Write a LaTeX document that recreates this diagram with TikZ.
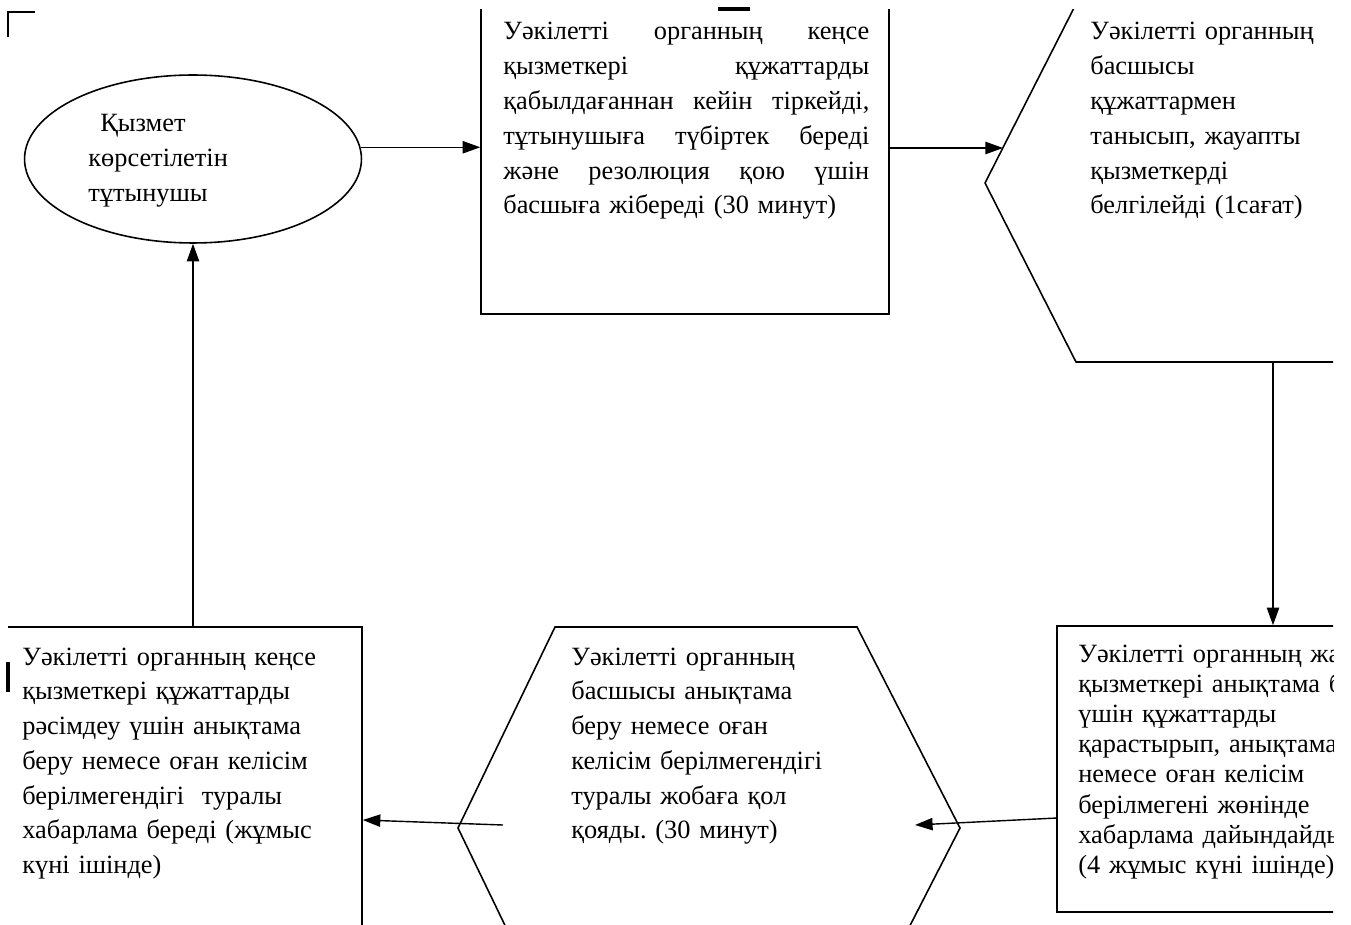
\documentclass[tikz,border=0pt]{standalone}
\usepackage{fontspec}
\setmainfont{Liberation Serif}
\usetikzlibrary{arrows.meta,shapes.geometric}
\frenchspacing

\begin{document}
\begin{tikzpicture}[x=0.02cm,y=-0.02cm]

    \tikzset{boxstyle/.style={draw,shape=rectangle,line width=0.9pt,inner sep=0pt},
        txt/.style={anchor=base west,inner sep=0pt,align=left,font=\fontsize{15}{19.8}\selectfont},
        arr/.style={-{Triangle[length=10pt,width=7pt]},line width=0.8pt}}
    \useasboundingbox (0,0) rectangle (1351,925);

    \begin{scope}
        \clip (8,10) rectangle (1333,925);
        \node[draw,shape=ellipse,line width=0.9pt,minimum width=6.74cm,minimum height=3.36cm] (cons) at (193,159) {};
        \node[boxstyle,minimum width=8.16cm,minimum height=6.88cm] (off1) at (685,142) {};
        \draw[line width=0.9pt] (985,183) -- (1076,4) -- (1520,4) -- (1611,183) -- (1520,362) -- (1076,362) -- cycle;
        \node[boxstyle,minimum width=8.64cm,minimum height=5.72cm] (exec) at (1273,769) {};
        \draw[line width=0.9pt] (458,828) -- (555,627) -- (857,627) -- (960,828) -- (857,1029) -- (555,1029) -- cycle;
        \node[boxstyle,minimum width=8.04cm,minimum height=7.72cm] (off2) at (161,820) {};

        \coordinate (h1in) at (1003,148);
        \coordinate (h1out) at (1273,362);
        \coordinate (ex1) at (1057,818);
        \coordinate (h2in) at (915,825);
        \coordinate (h2out) at (503,825);

        \node[txt,text width=6cm] (ct) at (88,132) {\hspace*{0.24cm}Қызмет\\көрсетілетін\\тұтынушы};
        \node[txt,text width=7.32cm] (t1) at (503,40) {%
            \makebox[7.32cm][l]{Уәкілетті\hfill органның\hfill кеңсе}\\
            \makebox[7.32cm][l]{қызметкері\hfill құжаттарды}\\
            \makebox[7.32cm][l]{қабылдағаннан\hfill кейін\hfill тіркейді,}\\
            \makebox[7.32cm][l]{тұтынушыға\hfill түбіртек\hfill береді}\\
            \makebox[7.32cm][l]{және\hfill резолюция\hfill қою\hfill үшін}\\
            басшыға жібереді (30 минут)};
        \node[txt,text width=6cm] (t2) at (1090,40) {Уәкілетті органның\\басшысы\\құжаттармен\\танысып, жауапты\\қызметкерді\\белгілейді (1сағат)};
        \node[txt,text width=10cm,font=\fontsize{15}{17.2}\selectfont] (t3) at (1078,662) {Уәкілетті органның жауапты\\қызметкері анықтама беру\\үшін құжаттарды\\қарастырып, анықтама\\немесе оған келісім\\берілмегені жөнінде\\хабарлама дайындайды\\(4 жұмыс күні ішінде)};
        \node[txt,text width=6cm] (t4) at (571,665) {Уәкілетті органның\\басшысы анықтама\\беру немесе оған\\келісім берілмегендігі\\туралы жобаға қол\\қояды. (30 минут)};
        \node[txt,text width=6.5cm] (t5) at (22,665) {Уәкілетті органның кеңсе\\қызметкері құжаттарды\\рәсімдеу үшін анықтама\\беру немесе оған келісім\\берілмегендігі~ туралы\\хабарлама береді (жұмыс\\күні ішінде)};

        \begin{scope}[every path/.style={arr}]
            \draw (cons.4) -- (cons.4 -| off1.west);
            \draw (off1.east |- h1in) -- (h1in);
            \draw (h1out) -- (exec.north);
            \draw (ex1) -- (h2in);
            \draw (h2out) -- (off2.east);
            \draw (off2.north -| cons.south) -- (cons.south);
        \end{scope}
    \end{scope}

    \draw[line width=0.9pt] (8,37) -- (8,12) -- (35,12);
    \draw[line width=2pt] (718,9) -- (750,9);
    \draw[line width=2pt] (8,662) -- (8,692);
\end{tikzpicture}
\end{document}
